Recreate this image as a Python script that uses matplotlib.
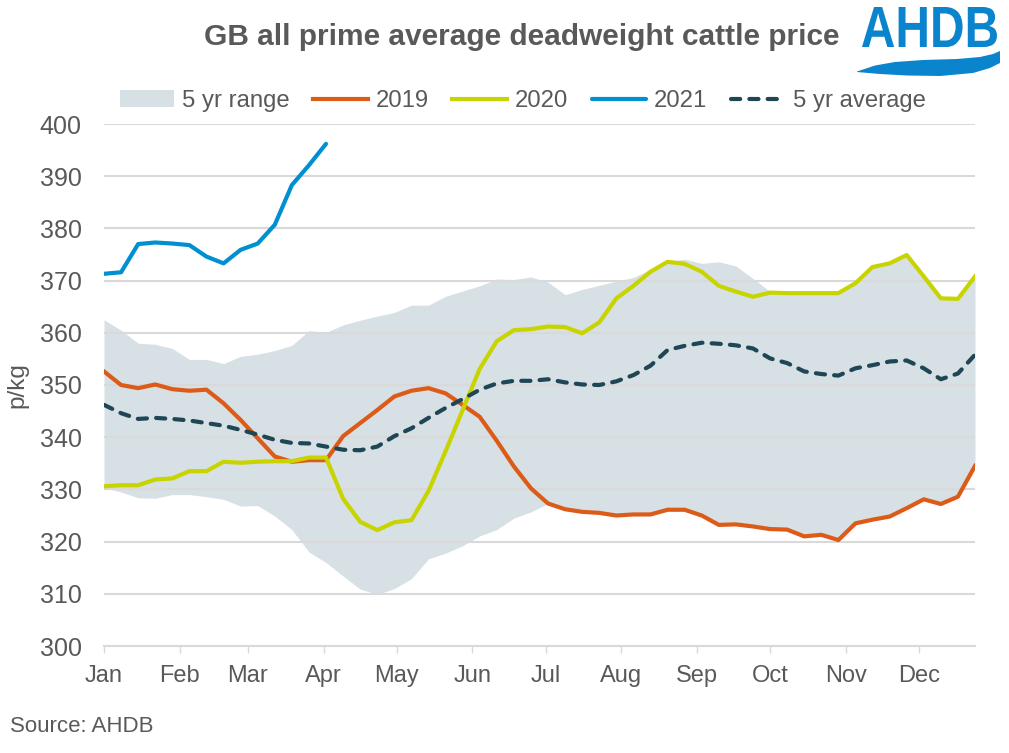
import matplotlib
matplotlib.use("Agg")
import matplotlib.pyplot as plt
from matplotlib.patches import Polygon, PathPatch
from matplotlib.textpath import TextPath
from matplotlib.font_manager import FontProperties
from matplotlib.transforms import Affine2D
import numpy as np

plt.rcParams['font.family'] = ['Liberation Sans', 'DejaVu Sans']

# ---------------- data (weekly, p/kg) ----------------
months = ["Jan", "Feb", "Mar", "Apr", "May", "Jun", "Jul", "Aug", "Sep", "Oct", "Nov", "Dec"]
month_start_day = [0, 31, 59, 90, 120, 151, 181, 212, 243, 273, 304, 334]

y2019 = [352.6, 350.0, 349.4, 350.1, 349.2, 348.9, 349.1, 346.5, 343.3, 339.8,
         336.3, 335.3, 335.6, 335.6, 340.2, 342.7, 345.2, 347.8, 348.9, 349.4,
         348.4, 346.2, 343.9, 339.3, 334.4, 330.2, 327.3, 326.2, 325.7, 325.5,
         325.0, 325.2, 325.2, 326.1, 326.1, 325.0, 323.2, 323.3, 322.9, 322.4,
         322.3, 321.0, 321.3, 320.3, 323.5, 324.2, 324.8, 326.4, 328.1, 327.2,
         328.6, 334.5]

y2020 = [330.6, 330.8, 330.8, 331.9, 332.1, 333.5, 333.5, 335.3, 335.1, 335.3,
         335.4, 335.4, 336.1, 336.1, 328.2, 323.8, 322.2, 323.7, 324.1, 329.7,
         337.3, 345.2, 353.1, 358.4, 360.5, 360.7, 361.2, 361.1, 359.9, 362.0,
         366.6, 369.0, 371.7, 373.6, 373.2, 371.7, 369.0, 367.9, 366.9, 367.7,
         367.6, 367.6, 367.6, 367.6, 369.5, 372.6, 373.3, 374.9, 370.8, 366.6,
         366.5, 370.8]

y2021 = [371.3, 371.6, 377.0, 377.3, 377.1, 376.8, 374.6, 373.3, 375.9, 377.1,
         380.7, 388.3, 392.1, 396.2]

avg5 = [346.2, 344.6, 343.5, 343.7, 343.5, 343.2, 342.7, 342.2, 341.4, 340.5,
        339.5, 338.9, 338.8, 338.2, 337.6, 337.5, 338.2, 340.2, 341.7, 343.7,
        345.6, 347.3, 349.1, 350.3, 350.8, 350.8, 351.1, 350.5, 350.1, 350.0,
        350.7, 351.9, 353.7, 356.7, 357.5, 358.1, 357.9, 357.6, 357.0, 355.1,
        354.2, 352.6, 352.1, 351.8, 353.2, 353.8, 354.5, 354.7, 353.2, 351.1,
        352.2, 355.8]

range_max = [362.5, 360.5, 358.0, 357.8, 357.0, 354.9, 354.9, 354.1, 355.5, 355.9,
             356.6, 357.6, 360.4, 360.1, 361.5, 362.4, 363.2, 363.9, 365.3, 365.3,
             367.0, 368.0, 369.0, 370.3, 370.2, 370.7, 369.7, 367.3, 368.3, 369.1,
             369.9, 370.6, 372.2, 373.7, 374.1, 373.3, 373.6, 372.8, 370.4, 367.9,
             367.6, 367.6, 367.6, 367.6, 369.5, 372.6, 373.3, 374.9, 370.8, 366.6,
             366.5, 370.8]

range_min = [330.3, 329.5, 328.4, 328.3, 329.0, 329.0, 328.6, 328.1, 326.8, 326.9,
             324.9, 322.3, 318.0, 316.0, 313.4, 310.9, 309.9, 311.0, 312.9, 316.7,
             317.8, 319.2, 321.1, 322.3, 324.5, 325.7, 327.3, 326.2, 325.7, 325.5,
             325.0, 325.2, 325.2, 326.1, 326.1, 325.0, 323.2, 323.3, 322.9, 322.4,
             322.3, 321.0, 321.3, 320.3, 323.5, 324.2, 324.8, 326.4, 328.1, 327.2,
             328.6, 334.5]

yticks = list(range(300, 401, 10))

# ---------------- styling ----------------
C_RANGE = "#D7E0E5"
C_2019 = "#DD5B18"
C_2020 = "#C8D400"
C_2021 = "#0090D2"
C_AVG = "#1F4655"
C_TEXT = "#595959"
C_GRID = "#D9D9D9"
C_LOGO = "#0A84CC"

W, H = 1009, 753
fig = plt.figure(figsize=(W / 100, H / 100), dpi=100)
ax = fig.add_axes([104 / W, 1 - 646 / H, (975 - 104) / W, (646 - 124) / H])

days = np.arange(len(y2019)) * 7
days21 = np.arange(len(y2021)) * 7

ax.fill_between(days, range_min, range_max, color=C_RANGE, lw=0, label="5 yr range", zorder=1)
ax.plot(days, y2019, color=C_2019, lw=3, label="2019", zorder=3, solid_joinstyle="round")
ax.plot(days, y2020, color=C_2020, lw=3, label="2020", zorder=3, solid_joinstyle="round")
ax.plot(days21, y2021, color=C_2021, lw=3, label="2021", zorder=3, solid_joinstyle="round",
        solid_capstyle="round")
ax.plot(days, avg5, color=C_AVG, lw=3, label="5 yr average", zorder=4,
        dashes=(2.2, 2.2), dash_capstyle="round")

ax.set_xlim(0, 357)
ax.set_ylim(300, 400)
ax.set_yticks(yticks)
ax.set_xticks(month_start_day)
ax.set_xticklabels(months)

ax.grid(axis="y", color=C_GRID, lw=1.5, zorder=0)
ax.set_axisbelow(False)
for g in ax.get_ygridlines():
    g.set_zorder(2)
for s in ax.spines.values():
    s.set_visible(False)
ax.spines["bottom"].set_visible(True)
ax.spines["bottom"].set_color(C_GRID)
ax.spines["bottom"].set_linewidth(1.5)

ax.tick_params(axis="y", length=0, pad=16, labelsize=18, labelcolor=C_TEXT)
ax.tick_params(axis="x", length=5, width=1, color=C_GRID, pad=9, labelsize=17,
               labelcolor=C_TEXT, direction="out")

ax.set_ylabel("p/kg", fontsize=17.5, color=C_TEXT, labelpad=8)

fig.text(0.517, 0.951, "GB all prime average deadweight cattle price", ha="center", va="center",
         fontsize=21.5, fontweight="bold", color=C_TEXT)

fig.legend(loc="center", bbox_to_anchor=(0.518, 0.866), ncol=5, frameon=False,
           fontsize=17.2, handlelength=2.3, handletextpad=0.3, columnspacing=1.0,
           labelcolor=C_TEXT)

fig.text(10 / W, 1 - 727 / H, "Source: AHDB", ha="left", va="center", fontsize=16, color=C_TEXT)

# AHDB logo: text path scaled into its box (pixels: x 862-997, y 7-47 from top)
tp = TextPath((0, 0), "AHDB", size=1, prop=FontProperties(family="Liberation Sans", weight="bold"))
bb = tp.get_extents()
x0, x1, ytop, ybot = 862, 997, 7, 47
sx = (x1 - x0) / W / bb.width
sy = (ybot - ytop) / H / bb.height
tr = Affine2D().translate(-bb.x0, -bb.y0).scale(sx, sy).translate(x0 / W, 1 - ybot / H)
logo = PathPatch(tr.transform_path(tp), transform=fig.transFigure, facecolor=C_LOGO, edgecolor="none")
fig.patches.append(logo)

wave_px = [(857, 71.5), (875, 65.5), (895, 62), (923, 60), (957, 59), (980, 57), (993, 54), (1000, 51),
           (1000, 63), (990, 68), (973, 73), (940, 76), (907, 75.5), (880, 74), (857, 72)]
wave = Polygon([(x / W, 1 - y / H) for x, y in wave_px], closed=True, transform=fig.transFigure,
               facecolor=C_LOGO, edgecolor="none")
fig.patches.append(wave)

fig.savefig("out.png", dpi=100)
